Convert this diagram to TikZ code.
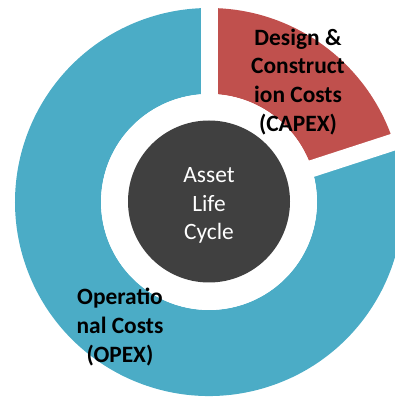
\documentclass[tikz,border=0pt]{standalone}
\usepackage{fontspec}
\setmainfont{Carlito}
\usetikzlibrary{calc}
\definecolor{opexblue}{HTML}{4BACC6}
\definecolor{capexred}{HTML}{C0504D}
\definecolor{hubgrey}{HTML}{404040}

\begin{document}
\begin{tikzpicture}[x=1bp, y=1bp,
 ringlabel/.style={align=center, inner sep=0, font=\bfseries\fontsize{23.5}{29}\selectfont},
 gap/.style={white, line width=17bp}]
\useasboundingbox (0,0) rectangle (395,397);
\coordinate (c) at (209,195);
% ring slices
\fill[opexblue] ($(c)+(18:194)$) arc (18:-270:194) -- ($(c)+(90:108)$) arc (-270:18:108) -- cycle;
\fill[capexred] ($(c)+(18:194)$) arc (18:90:194) -- ($(c)+(90:108)$) arc (90:18:108) -- cycle;
\foreach \a in {18,90}
 \draw[gap] (c) --++(\a:205);
\fill[white] (c) circle (108);
% hub
\fill[hubgrey] (209,195.5) circle (81);
\node[inner sep=0, text=white, align=center, font=\fontsize{23.5}{28.7}\selectfont]
 (cycle) at (209,191.5) {Asset\\Life\\Cycle};
% labels
\node[ringlabel] (capex) at (298,315) {Design \&\\Construct\\ion Costs\\(CAPEX)};
\node[ringlabel] (opex) at (120,70) {Operatio\\nal Costs\\(OPEX)};
\end{tikzpicture}
\end{document}
